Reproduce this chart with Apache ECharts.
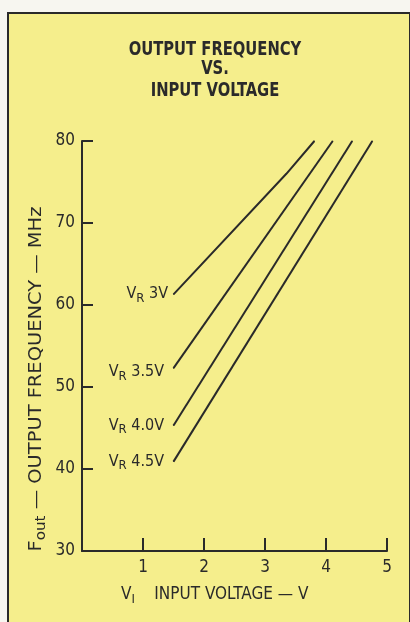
<!DOCTYPE html>
<html><head><meta charset="utf-8">
<script src="https://cdn.jsdelivr.net/npm/echarts@6/dist/echarts.min.js"></script>
<style>html,body{margin:0;padding:0;background:#f7f6f0;}#c{width:410px;height:622px;}</style>
</head><body><div id="c"></div>
<script>
// Data
const seriesNames = ['3V', '3.5V', '4.0V', '4.5V'];
const vr3 = [[1.5, 61.3], [3.35, 76.0], [3.81, 80]];
const vr35 = [[1.5, 52.3], [4.11, 80]];
const vr40 = [[1.5, 45.3], [4.43, 80]];
const vr45 = [[1.5, 40.9], [4.76, 80]];
const xTicks = [1, 2, 3, 4, 5];
const yTicks = [30, 40, 50, 60, 70, 80];
const titleLines = ['OUTPUT FREQUENCY', 'VS.', 'INPUT VOLTAGE'];

const ink = '#2a2a2a';
const yellow = '#f5ee8c';
const narrow = '"Liberation Sans Narrow","DejaVu Sans Condensed",sans-serif';

const labelRich = {
  v: {fontFamily: narrow, fontSize: 16, color: ink},
  s: {fontFamily: narrow, fontSize: 13, color: ink, padding: [8, 0, 0, 0]}
};
const labelDist = [5, 9, 9, 9];
const labelDy = [0, 4, 0, 0];
function mkSeries(name, arr, k) {
  return {
    type: 'line', name: name, symbol: 'circle', symbolSize: 1, showSymbol: true, silent: true,
    itemStyle: {color: ink},
    lineStyle: {color: ink, width: 2},
    data: arr.map((p, i) => i === 0 ? {
      value: p,
      label: {show: true, position: 'left', distance: labelDist[k], offset: [0, labelDy[k]],
        formatter: '{v|V}{s|R}{v| ' + name + '}', rich: labelRich}
    } : {value: p, label: {show: false}})
  };
}
const allSeries = [vr3, vr35, vr40, vr45].map((d, i) => mkSeries(seriesNames[i], d, i));

const titleY = [50, 69, 91];
const titleGraphics = titleLines.map((t, i) => ({
  type: 'text', x: 215, y: titleY[i], scaleX: 0.82, z: 10,
  style: {text: t, fill: ink, fontFamily: narrow, fontWeight: 'bold', fontSize: 20,
    textAlign: 'center', textVerticalAlign: 'middle'}
}));

const chart = echarts.init(document.getElementById('c'));
chart.setOption({
  animation: false,
  backgroundColor: 'transparent',
  graphic: [
    {type: 'rect', z: -10, shape: {x: 8, y: 13, width: 402, height: 620},
      style: {fill: yellow, stroke: ink, lineWidth: 2}},
    ...titleGraphics,
    {type: 'text', x: 121, y: 595, z: 10,
      style: {text: '{v|V}{s|I}{v|    INPUT VOLTAGE — V}', fill: ink, textVerticalAlign: 'middle',
        rich: {v: {fontFamily: narrow, fontSize: 17, color: ink},
               s: {fontFamily: narrow, fontSize: 13, color: ink, padding: [9, 0, 0, 0]}}}},
    {type: 'text', x: 36, y: 379, rotation: Math.PI / 2, scaleX: 1.2, z: 10,
      style: {text: '{v|F}{s|out}{v| — OUTPUT FREQUENCY — MHz}', fill: ink,
        textAlign: 'center', textVerticalAlign: 'middle',
        rich: {v: {fontFamily: narrow, fontSize: 18, color: ink},
               s: {fontFamily: narrow, fontSize: 14, color: ink, padding: [10, 0, 0, 0]}}}}
  ],
  grid: {left: 82, right: 23, top: 141, bottom: 71},
  xAxis: {
    type: 'value', min: 0, max: 5, interval: 1,
    axisLine: {lineStyle: {color: ink, width: 2}},
    axisTick: {inside: true, length: 13, lineStyle: {color: ink, width: 2}},
    axisLabel: {fontFamily: narrow, fontSize: 17, color: ink, margin: 8,
      formatter: v => xTicks.includes(v) ? String(v) : ''},
    splitLine: {show: false}
  },
  yAxis: {
    type: 'value', min: 30, max: 80, interval: 10,
    axisLine: {lineStyle: {color: ink, width: 2}},
    axisTick: {inside: true, length: 11, lineStyle: {color: ink, width: 2}},
    axisLabel: {fontFamily: narrow, fontSize: 17, color: ink, margin: 7,
      formatter: v => yTicks.includes(v) ? String(v) : ''},
    splitLine: {show: false}
  },
  series: allSeries
});
</script></body></html>
